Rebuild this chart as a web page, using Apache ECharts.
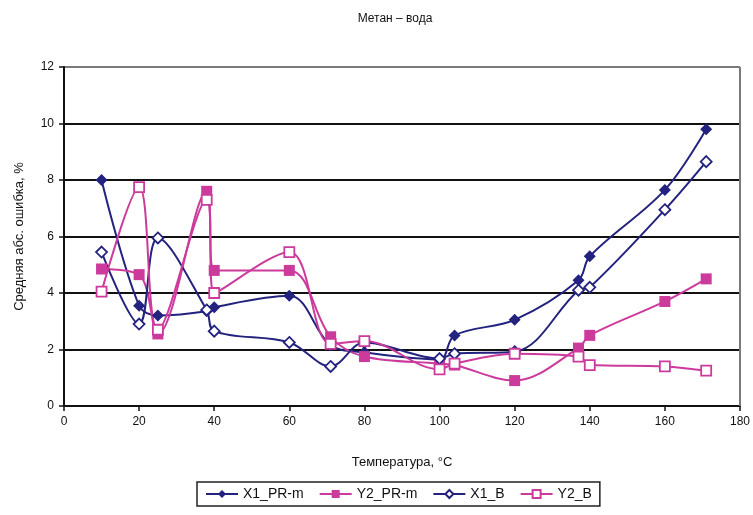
<!DOCTYPE html>
<html>
<head>
<meta charset="utf-8">
<script src="https://cdn.jsdelivr.net/npm/echarts@6/dist/echarts.min.js"></script>
<style>
  html, body { margin: 0; padding: 0; background: #fff; }
  #chart { width: 753px; height: 515px; }
</style>
</head>
<body>
<div id="chart"></div>
<script>
// Temperatures, °C
const temps = [10, 20, 25, 38, 40, 60, 71, 80, 100, 104, 120, 137, 140, 160, 171];
// Mean absolute error, %
const x1PRm = [8.0, 3.55, 3.2, 3.35, 3.5, 3.9, 2.15, 1.9, 1.65, 2.5, 3.05, 4.45, 5.3, 7.65, 9.8];
const y2PRm = [4.85, 4.65, 2.55, 7.6, 4.8, 4.8, 2.45, 1.75, 1.5, 1.45, 0.9, 2.05, 2.5, 3.7, 4.5];
const x1B   = [5.45, 2.9, 5.95, 3.4, 2.65, 2.25, 1.4, 2.25, 1.68, 1.85, 1.92, 4.1, 4.2, 6.95, 8.65];
const y2B   = [4.05, 7.75, 2.7, 7.3, 4.0, 5.45, 2.2, 2.3, 1.3, 1.5, 1.85, 1.75, 1.45, 1.4, 1.25];
const xTicks = [0, 20, 40, 60, 80, 100, 120, 140, 160, 180];

const NAVY = '#23237F';
const PINK = '#CC3A9C';

const pairs = ys => temps.map((t, i) => [t, ys[i]]);

function line(name, ys, color, symbol, hollow, size) {
  return {
    name: name,
    type: 'line',
    data: pairs(ys),
    smooth: 0.35,
    symbol: symbol,
    symbolSize: size,
    showSymbol: true,
    lineStyle: { color: color, width: 2 },
    itemStyle: hollow
      ? { color: '#fff', borderColor: color, borderWidth: 1.8 }
      : { color: color, borderColor: color, borderWidth: 0 },
    emphasis: { disabled: true }
  };
}

const chart = echarts.init(document.getElementById('chart'), null, { renderer: 'canvas' });
const font = 'Liberation Sans, Arial, sans-serif';
chart.setOption({
  animation: false,
  backgroundColor: '#fff',
  title: {
    text: 'Метан – вода',
    left: 390, top: 8, textAlign: 'center',
    textStyle: { fontFamily: font, fontSize: 12, fontWeight: 'normal', color: '#111' }
  },
  grid: { left: 64, right: 13, top: 67, bottom: 109, show: false },
  legend: {
    bottom: 9, left: 197,
    itemWidth: 32, itemHeight: 10, itemGap: 15,
    borderColor: '#222', borderWidth: 1.5, padding: [5, 8],
    textStyle: { fontFamily: font, fontSize: 14, color: '#111' },
    data: ['X1_PR-m', 'Y2_PR-m', 'X1_B', 'Y2_B']
  },
  xAxis: {
    type: 'value', min: 0, max: 180, interval: 20,
    name: 'Температура, °C', nameLocation: 'middle', nameGap: 50,
    nameTextStyle: { fontFamily: font, fontSize: 13, color: '#111' },
    axisLine: { lineStyle: { color: '#111', width: 2 } },
    axisTick: { show: true, length: 5, lineStyle: { color: '#111', width: 1.5 } },
    axisLabel: { fontFamily: font, fontSize: 12, color: '#111', margin: 10,
                 formatter: v => xTicks.includes(v) ? String(v) : '' },
    splitLine: { show: false }
  },
  yAxis: {
    type: 'value', min: 0, max: 12, interval: 2,
    name: 'Средняя абс. ошибка, %', nameLocation: 'middle', nameGap: 38,
    nameTextStyle: { fontFamily: font, fontSize: 13, color: '#111' },
    axisLine: { show: true, lineStyle: { color: '#111', width: 2 } },
    axisTick: { show: true, length: 5, lineStyle: { color: '#111', width: 1.5 } },
    axisLabel: { fontFamily: font, fontSize: 12, color: '#111', margin: 10 },
    splitLine: { show: true, lineStyle: {
      color: ['#111', '#111', '#111', '#111', '#111', '#111', '#7a7a7a'], width: 2 } }
  },
  series: [
    line('X1_PR-m', x1PRm, NAVY, 'diamond', false, 12),
    line('Y2_PR-m', y2PRm, PINK, 'rect', false, 11),
    line('X1_B', x1B, NAVY, 'diamond', true, 11),
    line('Y2_B', y2B, PINK, 'rect', true, 10),
    {
      // right-hand border of the plot area
      type: 'line', silent: true, data: [],
      markLine: {
        symbol: 'none', silent: true, label: { show: false },
        lineStyle: { color: '#7a7a7a', width: 2, type: 'solid' },
        data: [{ xAxis: 180 }]
      }
    }
  ]
});
</script>
</body>
</html>
